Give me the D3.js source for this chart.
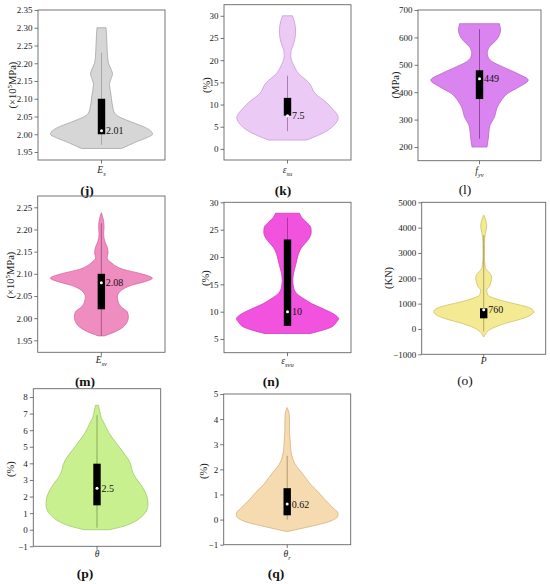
<!DOCTYPE html>
<html><head><meta charset="utf-8">
<script src="https://cdn.jsdelivr.net/npm/d3@7"></script>
<style>body{margin:0;background:#fff}svg{display:block}</style>
</head><body>
<svg id="c" width="550" height="584"></svg>
<script>
// ---- data (value, relative violin width) ----
const jVals=[1.96,1.97,1.98,1.99,2.00,2.01,2.02,2.03,2.04,2.05,2.06,2.08,2.10,2.12,2.14,2.16,2.17,2.18,2.20,2.22,2.25,2.28,2.30];
const jDens=[20,28,36,45,51,49,43,34,25,17,13,11,10,9,8,10,11,10,7,6,5.5,5,4.5];
const jBox=[1.97,2.00,2.01,2.10,2.23];
const jTicks=[1.95,2.00,2.05,2.10,2.15,2.20,2.25,2.30,2.35];

const kVals=[2,3,4,5,6,7,8,9,10,11,12,13,14,15,16,17,18,19,20,21,22,23,24,25,26,27,28,29,30];
const kDens=[19,30,39,45,49,50.7,49,45,41,36,30,26,24,21,16,11,8,6,4,3.3,3.5,5,6.5,7.5,8,8,7.5,6.5,5];
const kBox=[4,7.5,7.5,11.5,16.5];
const kTicks=[0,5,10,15,20,25,30];

const lVals=[200,237,273,310,347,371,395,420,444,468,493,511,525,542,555,566,580,596,610,627,640,650];
const lDens=[7.5,9,10,15,18,22,28,40,48.7,38,23,13,9,7.7,8.5,10,14,18,20,21,20.5,20];
const lBox=[230,375,449,480,630];
const lTicks=[200,300,400,500,600,700];

const mVals=[1.96,1.973,1.988,2.003,2.014,2.025,2.036,2.048,2.063,2.074,2.085,2.09,2.10,2.11,2.125,2.136,2.147,2.159,2.174,2.19,2.205,2.218,2.238];
const mDens=[3,17,25,27,26,20,17,16,20,30,47,51,40,22,10,5.7,6.7,6,3.3,2.3,2.7,2.3,0];
const mBox=[1.96,2.02,2.08,2.10,2.214];
const mTicks=[1.95,2.00,2.05,2.10,2.15,2.20,2.25];

const nVals=[6,7.2,8.1,8.7,9.6,10.5,11.5,12.4,13.3,14.5,15.7,17,18.2,19.4,20.6,21.8,23,24.5,25.4,26.3,27.2,28];
const nDens=[22.5,44,49,51,46,36,24,16,9.3,6,5.3,6,7.7,9.3,11,14.3,20,23.7,23.3,19.3,14.3,12];
const nBox=[7.4,7.4,10,23.2,27.2];
const nTicks=[5,10,15,20,25,30];

const oVals=[-320,-170,-40,90,224,355,487,684,816,947,1079,1210,1342,1540,1671,1868,2000,2197,2329,2526,2855,3380,3776,4040,4300,4500];
const oDens=[0,2.3,5.7,12.3,22,34,44,50,47,36,22,10.7,4,3,5.7,7.3,8,6.3,3,1.3,0.7,0.7,1.7,3,2,0];
const oBox=[-100,421,760,816,3700];
const oTicks=[-1000,0,1000,2000,3000,4000,5000];

const pVals=[0,0.22,0.52,0.82,1.12,1.53,1.93,2.33,2.73,3.13,3.53,3.94,4.34,4.74,5.14,5.54,5.94,6.35,6.75,7.15,7.5];
const pDens=[12.5,27,38.7,45.3,49.3,51,50.3,47.7,43.7,38.7,35.3,33.7,30.3,25.3,20.3,15.3,11,7.7,4.3,2.7,1.5];
const pBox=[0.12,1.47,2.5,3.98,6.9];
const pTicks=[-1,0,1,2,3,4,5,6,7,8];

const qVals=[-0.48,-0.385,-0.25,-0.12,0.01,0.15,0.28,0.41,0.61,0.81,1.01,1.21,1.41,1.67,1.94,2.2,2.4,2.74,3.13,3.53,3.93,4.2,4.46];
const qDens=[0,10.7,25.7,39,47.3,50.7,50.7,47.3,42.3,37.3,33,28.3,23.3,18.3,13,8,5.7,3.7,3,2.3,2.3,2,0];
const qBox=[0,0.17,0.62,1.25,2.54];
const qTicks=[-1,0,1,2,3,4,5];

const panelNames=["(j)","(k)","(l)","(m)","(n)","(o)","(p)","(q)"];
const medianLabels=["2.01","7.5","449","2.08","10","760","2.5","0.62"];

// ---- layout / style ----
const svg=d3.select("#c");
const FONT="Liberation Serif, Times New Roman, serif";
const W=d3.scaleLinear().domain([0,51]).range([0,51]);
const f2=d3.format(".2f"), fd=d3.format("d");

const panels=[
 {vals:jVals,dens:jDens,box:jBox,ticks:jTicks,dom:[1.9275,2.35],fmt:f2,l:38,r:165,t:10,b:160,fill:"#d6d6d6",stroke:"#a4a4a4",line:"#9a9a9a",
  yl:"sci",ylx:12,yly:85,xl:["E","s"],xly:173,tx:87,ty:190,bold:true},
 {vals:kVals,dens:kDens,box:kBox,ticks:kTicks,dom:[-2.5,32.5],fmt:fd,l:224,r:351,t:4.7,b:160,fill:"#eccaf6",stroke:"#c79ad6",line:"#9a6aa8",
  yl:"(%)",ylx:206,yly:85,xl:["ε","su"],xly:173,tx:283,ty:190,bold:true},
 {vals:lVals,dens:lDens,box:lBox,ticks:lTicks,dom:[150,700],fmt:fd,l:418,r:541,t:10,b:160.7,fill:"#da84f0",stroke:"#b865cf",line:"#7a3a8a",
  yl:"(MPa)",ylx:395,yly:85,xl:["f","yv"],xly:174,tx:465,ty:189,bold:false},
 {vals:mVals,dens:mDens,box:mBox,ticks:mTicks,dom:[1.923,2.2755],fmt:f2,l:37.7,r:165,t:196,b:352.3,fill:"#ef8cc0",stroke:"#d26a9f",line:"#a04a78",
  yl:"sci",ylx:10,yly:275,xl:["E","sv"],xly:363,tx:85,ty:381,bold:true},
 {vals:nVals,dens:nDens,box:nBox,ticks:nTicks,dom:[2.5,30],fmt:fd,l:224,r:351,t:202.3,b:352.7,fill:"#f152de",stroke:"#cf3bbc",line:"#a02a90",
  yl:"(%)",ylx:205,yly:278,xl:["ε","svu"],xly:364,tx:271,ty:381,bold:true},
 {vals:oVals,dens:oDens,box:oBox,ticks:oTicks,dom:[-1000,5000],fmt:fd,l:421.7,r:545.7,t:202.3,b:354.3,fill:"#f3ea93",stroke:"#cfc26a",line:"#a09050",
  yl:"(KN)",ylx:388,yly:278,xl:["P",""],xly:364,tx:465,ty:380,bold:false},
 {vals:pVals,dens:pDens,box:pBox,ticks:pTicks,dom:[-1,8.5],fmt:fd,l:33.3,r:160.7,t:388.7,b:546.3,fill:"#c9f08e",stroke:"#a2c96a",line:"#789850",
  yl:"(%)",ylx:10,yly:469,xl:["θ",""],xly:557,tx:85,ty:573,bold:true},
 {vals:qVals,dens:qDens,box:qBox,ticks:qTicks,dom:[-1,5],fmt:fd,l:223.7,r:350.7,t:394,b:544.7,fill:"#f6dbb0",stroke:"#d3b27e",line:"#a08860",
  yl:"(%)",ylx:203,yly:471,xl:["θ","r"],xly:557,tx:276,ty:573,bold:true}
];

panels.forEach((p,i)=>{
  const g=svg.append("g").attr("font-family",FONT);
  const y=d3.scaleLinear().domain(p.dom).range([p.b,p.t]);
  const cx=(p.l+p.r)/2;
  const pts=p.vals.map((v,k)=>[v,p.dens[k]]);
  const area=d3.area().curve(d3.curveMonotoneY)
    .y(d=>y(d[0])).x0(d=>cx-W(d[1])).x1(d=>cx+W(d[1]));
  // violin
  g.append("path").attr("d",area(pts)).attr("fill",p.fill).attr("stroke",p.stroke).attr("stroke-width",0.8);
  // whisker
  const [lo,q1,med,q3,hi]=p.box;
  g.append("line").attr("x1",cx).attr("x2",cx).attr("y1",y(lo)).attr("y2",y(hi))
    .attr("stroke",p.line).attr("stroke-width",0.8);
  // box
  g.append("rect").attr("x",cx-3.7).attr("width",7.4).attr("y",y(q3)).attr("height",y(q1)-y(q3)).attr("fill","#000");
  // median
  g.append("circle").attr("cx",cx).attr("cy",y(med)).attr("r",1.5).attr("fill","#fff");
  g.append("text").attr("x",cx+4.5).attr("y",y(med)).attr("dy","0.35em")
    .style("font-family",FONT).attr("font-size",10).attr("fill","#111").text(medianLabels[i]);
  // frame
  g.append("rect").attr("x",p.l).attr("y",p.t).attr("width",p.r-p.l).attr("height",p.b-p.t)
    .attr("fill","none").attr("stroke","#666").attr("stroke-width",0.9);
  // y axis
  const ax=g.append("g").attr("transform",`translate(${p.l},0)`)
    .call(d3.axisLeft(y).tickValues(p.ticks).tickFormat(p.fmt).tickSize(3.5).tickPadding(2));
  ax.attr("font-family",FONT);
  ax.select(".domain").remove();
  ax.selectAll("line").attr("stroke","#555").attr("stroke-width",0.8);
  ax.selectAll("text").style("font-family",FONT).attr("font-size",9).attr("fill","#222");
  // x tick
  g.append("line").attr("x1",cx).attr("x2",cx).attr("y1",p.b).attr("y2",p.b+3.5).attr("stroke","#555").attr("stroke-width",0.8);
  // x label
  const xt=g.append("text").attr("x",cx).attr("y",p.xly).attr("text-anchor","middle")
    .style("font-family",FONT).attr("font-size",9.5).attr("font-style","italic").attr("fill","#222");
  xt.append("tspan").text(p.xl[0]);
  if(p.xl[1]) xt.append("tspan").attr("font-size",6.5).attr("dy","2.5").text(p.xl[1]);
  // y label
  const yt=g.append("text").attr("transform",`translate(${p.ylx},${p.yly}) rotate(-90)`)
    .attr("text-anchor","middle").attr("dy","0.35em")
    .style("font-family",FONT).attr("font-size",10.5).attr("fill","#222");
  if(p.yl==="sci"){
    yt.append("tspan").text("(×10");
    yt.append("tspan").attr("font-size",7).attr("dy","-4").text("5");
    yt.append("tspan").attr("dy","4").text("MPa)");
  } else yt.text(p.yl);
  // title
  g.append("text").attr("x",p.tx).attr("y",p.ty).attr("dy","0.35em").attr("text-anchor","middle")
    .style("font-family",FONT).attr("font-size",13.5).attr("font-weight",p.bold?"bold":"normal")
    .attr("fill","#111").text(panelNames[i]);
});
</script>
</body></html>
